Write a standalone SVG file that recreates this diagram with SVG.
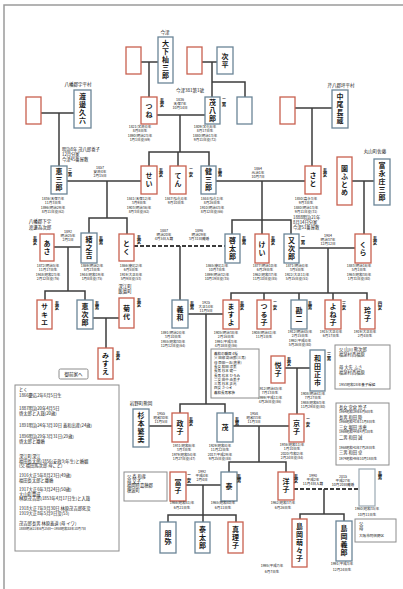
<svg xmlns="http://www.w3.org/2000/svg" width="403" height="589" viewBox="0 0 403 589">
<style>
text{font-family:"Noto Sans CJK JP","Noto Sans",sans-serif;fill:#1a1a1a}
.b{fill:#fff;stroke:#6a8597;stroke-width:1.3}
.r{fill:#fff;stroke:#c8604f;stroke-width:1.3}
.e{fill:#fff;stroke:#9aa8b2;stroke-width:1.2}
.g{fill:#fff;stroke:#8c8c8c;stroke-width:1}
.n{font-size:7px;font-weight:bold;writing-mode:vertical-rl;text-anchor:middle;letter-spacing:1px}
.l{font-size:4.4px;font-weight:bold;writing-mode:vertical-rl;text-anchor:start}
.s{font-size:3.5px;text-anchor:middle}
.m{font-size:3.6px;text-anchor:middle}
.p{font-size:4.5px;text-anchor:middle}
.t{font-size:4.3px}
.c{fill:none;stroke:#3c3c3c;stroke-width:1.5}
.d{fill:none;stroke:#3c3c3c;stroke-width:2;stroke-dasharray:4 2}
</style>
<path d="M4 589V5H403" fill="none" stroke="#9a9a9a" stroke-width="1.5"/>
<g id="connectors">
<path class="c" d="M141 62H158M149 62V97M202 62H217M212 62V97M212 82H245V97M41 113H74M59 113V166M295 108H332M312 108V166M157 115H205M180 115V152M149 166V152H209V166M178 152V166M67 181H141M107 181V218M89 233V218H127V234M216 181H305M262 181V234M232 234V220H291V234M352 181H374M364 181V234M54 247H81M68 247V291M45 300V291H85V300M299 248H355M328 248V293M231 300V293H367V300M264 293V300M299 293V300M333 293V300M93 318H119M106 318V348M180 246V300M188 314H223M206 314V404M180 413V404H225V413M285 368H310M297 368V414M149 426H172M233 426H289M259 426V462M229 472V462H286V472M186 485H221M203 485V522M168 522V515H236V522M324 489V514M300 519V514H344V521"/>
<path class="d" d="M134 246H225M294 489H359"/>
</g>
<g id="labels">
<text class="p" x="165" y="34">今津</text>
<text class="p" x="78" y="86">八幡郡宇平村</text>
<text class="p" x="190" y="92">今津381第1號</text>
<text class="p" x="341" y="87">芹八郡坪平村</text>
<text class="p" x="375" y="153">丸山町佐藤</text>
<text class="p" x="40" y="223">八幡郡下宇</text>
<text class="p" x="40" y="228.5">渡邊為次郎</text>
<text class="p" x="125" y="287.5">深江町</text>
<text class="p" x="125" y="293">飯島町</text>
<text class="p" x="141" y="405">岩野町熊岡</text>
<text class="t" x="62" y="151">明治8年 茂八郎養子</text>
<text class="t" x="62" y="156">12月分家</text>
<text class="t" x="62" y="161">今津45番屋敷</text>
<text class="t" x="293" y="219">1888明治21年</text>
<text class="t" x="293" y="224">8月14日分家</text>
<text class="t" x="293" y="229">今津51番屋敷</text>
</g>
<g id="marriages">
<text class="m" x="180" y="100.5">1836</text><text class="m" x="180" y="104.8">天保7年</text><text class="m" x="180" y="109.1">10月14日</text>
<text class="m" x="100" y="168.5">1857</text><text class="m" x="100" y="172.8">安政4年</text><text class="m" x="100" y="177.1">2月15日</text>
<text class="m" x="258" y="169.5">1864</text><text class="m" x="258" y="173.8">元治1年</text><text class="m" x="258" y="178.1">10月7日</text>
<text class="m" x="68" y="232.5">1892</text><text class="m" x="68" y="236.8">明治25年</text><text class="m" x="68" y="241.1">2月1日</text>
<text class="m" x="164" y="231.5">1887</text><text class="m" x="164" y="235.8">明治20年</text><text class="m" x="164" y="240.1">4月5日入籍</text>
<text class="m" x="199" y="231.5">1896</text><text class="m" x="199" y="235.8">明治29年</text><text class="m" x="199" y="240.1">3月31日離婚</text>
<text class="m" x="328" y="236.5">1904</text><text class="m" x="328" y="240.8">明治37年</text><text class="m" x="328" y="245.1">12月12日</text>
<text class="m" x="206" y="303.5">1925</text><text class="m" x="206" y="307.8">大正14年</text><text class="m" x="206" y="312.1">11月5日</text>
<text class="m" x="161" y="414.5">1955</text><text class="m" x="161" y="418.8">昭和30年</text><text class="m" x="161" y="423.1">11月5日</text>
<text class="m" x="254" y="414.5">1958</text><text class="m" x="254" y="418.8">昭和33年</text><text class="m" x="254" y="423.1">11月3日</text>
<text class="m" x="202" y="472.5">1992</text><text class="m" x="202" y="476.8">平成4年</text><text class="m" x="202" y="481.1">2月4日</text>
<text class="m" x="313" y="476.5">1990</text><text class="m" x="313" y="480.8">平成2年</text><text class="m" x="313" y="485.1">11月4日入籍</text>
<text class="m" x="343" y="477.5">2015</text><text class="m" x="343" y="481.8">平成27年</text><text class="m" x="343" y="486.1">10月20日離婚</text>
</g>
<g id="n-red0"><rect class="r" x="126" y="47" width="15" height="27"/></g>
<g id="n-oshita"><rect class="b" x="158" y="37" width="15" height="46"/><text class="n" x="165.5" y="60">大下杣三郎</text></g>
<g id="n-red1"><rect class="r" x="187" y="47" width="15" height="27"/></g>
<g id="n-jihei"><rect class="b" x="217" y="47" width="16" height="27"/><text class="n" x="225" y="60.5">次平</text></g>
<g id="n-watanabe"><rect class="b" x="74" y="90" width="17" height="38"/><text class="n" x="82.5" y="109">渡邊久六</text></g>
<g id="n-red2"><rect class="r" x="26" y="97" width="15" height="27"/></g>
<g id="n-tsune"><rect class="r" x="141" y="97" width="16" height="27"/><text class="n" x="149" y="110.5">つね</text><text class="l" x="162" y="98">長女</text>
<text class="s" x="140" y="128">1821(文政4)年</text><text class="s" x="140" y="132.3">8月8日生</text><text class="s" x="140" y="136.6">1890(明治23)年</text><text class="s" x="140" y="140.9">1月1日没(69)</text></g>
<g id="n-mohachiro"><rect class="b" x="205" y="97" width="15" height="27"/><text class="n" x="212.5" y="110.5">茂八郎</text><text class="l" x="224" y="98">二男</text>
<text class="s" x="205" y="128">1809(文化6)年</text><text class="s" x="205" y="132.3">8月17日生</text><text class="s" x="205" y="136.6">1880(明治13)年</text><text class="s" x="205" y="140.9">9月11日没(72)</text></g>
<g id="n-blue0"><rect class="b" x="237" y="97" width="15" height="27"/></g>
<g id="n-red3"><rect class="r" x="280" y="97" width="15" height="27"/></g>
<g id="n-nakao"><rect class="b" x="332" y="90" width="16" height="38"/><text class="n" x="340" y="109">中尾長蔵</text></g>
<g id="n-keizaburo"><rect class="b" x="51" y="166" width="16" height="28"/><text class="n" x="59" y="180">恵三郎</text><text class="l" x="70" y="168">三男</text>
<text class="s" x="53" y="200">1836(天保7)年</text><text class="s" x="53" y="204.3">11月3日生</text><text class="s" x="53" y="208.6">1896(明治29)年</text><text class="s" x="53" y="212.9">8月11日没(62)</text></g>
<g id="n-sei"><rect class="r" x="141" y="166" width="16" height="28"/><text class="n" x="149" y="180">せい</text><text class="l" x="161" y="168">長女</text>
<text class="s" x="139" y="200">1841(天保12)年</text><text class="s" x="139" y="204.3">3月9日生</text><text class="s" x="139" y="208.6">1903(明治36)年</text><text class="s" x="139" y="212.9">8月3日没(62)</text></g>
<g id="n-ten"><rect class="r" x="170" y="166" width="16" height="28"/><text class="n" x="178" y="180">てん</text><text class="l" x="191" y="168">二女</text>
<text class="s" x="176" y="200">1847(弘化4)年</text><text class="s" x="176" y="204.3">9月10日生</text></g>
<g id="n-kenzaburo"><rect class="b" x="201" y="166" width="15" height="28"/><text class="n" x="208.5" y="180">健三郎</text><text class="l" x="220" y="168">長男</text>
<text class="s" x="212" y="200">1844(弘化1)年</text><text class="s" x="212" y="204.3">8月26日生</text><text class="s" x="212" y="208.6">1910(明治43)年</text><text class="s" x="212" y="212.9">8月12日没(66)</text></g>
<g id="n-sato"><rect class="r" x="305" y="166" width="16" height="28"/><text class="n" x="313" y="180">さと</text><text class="l" x="325" y="168">長女</text>
<text class="s" x="306" y="200">1850(嘉永3)年</text><text class="s" x="306" y="204.3">9月3日生</text><text class="s" x="306" y="208.6">1880(明治13)年</text><text class="s" x="306" y="212.9">9月11日没(31)</text></g>
<g id="n-sonofutome"><rect class="r" x="337" y="157" width="15" height="48"/><text class="n" x="344.5" y="181">園ふとめ</text></g>
<g id="n-tominaga"><rect class="b" x="374" y="159" width="16" height="46"/><text class="n" x="382" y="182">富永庄三郎</text></g>
<g id="n-asa"><rect class="r" x="40" y="234" width="14" height="27"/><text class="n" x="47" y="247.5">あさ</text><text class="l" x="35" y="236">長女</text>
<text class="s" x="48" y="267">1872(明治5)年</text><text class="s" x="48" y="271.3">11月17日生</text><text class="s" x="48" y="275.6">1948(昭和23)年</text><text class="s" x="48" y="279.9">2月12日没(76)</text></g>
<g id="n-onokichi"><rect class="b" x="81" y="233" width="16" height="30"/><text class="n" x="89" y="248">緒之吉</text><text class="l" x="101" y="236">長男</text>
<text class="s" x="92" y="267">1869(明治2)年</text><text class="s" x="92" y="271.3">8月23日生</text><text class="s" x="92" y="275.6">1944(昭和19)年</text><text class="s" x="92" y="279.9">1月8日没(75)</text></g>
<g id="n-toku"><rect class="r" x="119" y="234" width="15" height="27"/><text class="n" x="126.5" y="247.5">とく</text><text class="l" x="139" y="235">長女</text>
<text class="s" x="131" y="267">1866(慶応2)年</text><text class="s" x="131" y="271.3">6月5日生</text><text class="s" x="131" y="275.6">1919(大正8)年</text><text class="s" x="131" y="279.9">5月9日没(53)</text></g>
<g id="n-keitaro"><rect class="b" x="225" y="234" width="15" height="29"/><text class="n" x="232.5" y="248.5">啓太郎</text><text class="l" x="244" y="236">長男</text>
<text class="s" x="217" y="267">1865(慶応1)年</text><text class="s" x="217" y="271.3">10月7日生</text><text class="s" x="217" y="275.6">1899(明治32)年</text><text class="s" x="217" y="279.9">10月19日没(35)</text></g>
<g id="n-kei"><rect class="r" x="255" y="234" width="14" height="29"/><text class="n" x="262" y="248.5">けい</text><text class="l" x="273" y="236">長女</text>
<text class="s" x="265" y="267">1877(明治10)年</text><text class="s" x="265" y="271.3">6月29日生</text><text class="s" x="265" y="275.6">1962(昭和37)年</text><text class="s" x="265" y="279.9">11月10日没(85)</text></g>
<g id="n-matajiro"><rect class="b" x="284" y="234" width="15" height="29"/><text class="n" x="291.5" y="248.5">又次郎</text><text class="l" x="303" y="236">二男</text>
<text class="s" x="297" y="267">1871(明治4)年</text><text class="s" x="297" y="271.3">3月5日生</text><text class="s" x="297" y="275.6">1922(大正11)年</text><text class="s" x="297" y="279.9">5月15日没(51)</text></g>
<g id="n-kura"><rect class="r" x="355" y="234" width="16" height="29"/><text class="n" x="363" y="248.5">くら</text><text class="l" x="375" y="236">長女</text>
<text class="s" x="359" y="267">1883(明治16)年</text><text class="s" x="359" y="271.3">5月1日生</text><text class="s" x="359" y="275.6">1963(昭和38)年</text><text class="s" x="359" y="279.9">1月31日没(80)</text></g>
<g id="n-sakie"><rect class="r" x="37" y="300" width="15" height="29"/><text class="n" x="44.5" y="314.5">サキエ</text><text class="l" x="57" y="301">長女</text></g>
<g id="n-keijiro"><rect class="b" x="77" y="300" width="16" height="29"/><text class="n" x="85" y="314.5">恵次郎</text><text class="l" x="97" y="301">長男</text></g>
<g id="n-kikuyo"><rect class="r" x="119" y="298" width="15" height="30"/><text class="n" x="126.5" y="313">菊代</text><text class="l" x="139" y="298">長女</text></g>
<g id="n-misue"><rect class="r" x="98" y="348" width="15" height="31"/><text class="n" x="105.5" y="363.5">みすえ</text><text class="l" x="118" y="351">長女</text></g>
<g id="n-yoshikazu"><rect class="b" x="172" y="300" width="16" height="28"/><text class="n" x="180" y="314">義和</text><text class="l" x="192" y="301">長男</text>
<text class="s" x="173" y="334">1891(明治24)年</text><text class="s" x="173" y="338.3">3月10日生</text><text class="s" x="173" y="342.6">1955(昭和30)年</text><text class="s" x="173" y="346.9">12月12日没(64)</text></g>
<g id="n-masuyo"><rect class="r" x="223" y="300" width="16" height="29"/><text class="n" x="231" y="314.5">ますよ</text><text class="l" x="242" y="301">長女</text>
<text class="s" x="226" y="334">1905(明治38)年</text><text class="s" x="226" y="338.3">2月16日生</text><text class="s" x="226" y="342.6">1991(平成3)年</text><text class="s" x="226" y="346.9">4月18日没(86)</text></g>
<g id="n-tsuruko"><rect class="r" x="257" y="300" width="14" height="29"/><text class="n" x="264" y="314.5">つる子</text><text class="l" x="275" y="301">二女</text>
<text class="s" x="264" y="334">1908(明治41)年</text><text class="s" x="264" y="338.3">11月1日生</text></g>
<g id="n-kanji"><rect class="b" x="291" y="300" width="16" height="29"/><text class="n" x="299" y="314.5">勘二</text><text class="l" x="310" y="301">長男</text>
<text class="s" x="300" y="333">1912(明治45)年</text><text class="s" x="300" y="337.3">2月15日生</text><text class="s" x="300" y="341.6">1992(平成4)年</text><text class="s" x="300" y="345.9">5月26日没(80)</text></g>
<g id="n-yoneko"><rect class="r" x="325" y="300" width="16" height="29"/><text class="n" x="333" y="314.5">よね子</text><text class="l" x="344" y="301">三女</text>
<text class="s" x="331" y="333">1915(大正4)年</text><text class="s" x="331" y="337.3">6月17日生</text></g>
<g id="n-reiko"><rect class="r" x="360" y="300" width="15" height="29"/><text class="n" x="367.5" y="314.5">玲子</text><text class="l" x="380" y="301">四女</text>
<text class="s" x="365" y="333">1919(大正8)年</text><text class="s" x="365" y="337.3">2月4日生</text></g>
<g id="n-etsuko"><rect class="r" x="271" y="356" width="14" height="27"/><text class="n" x="278" y="369.5">悦子</text><text class="l" x="289" y="357">長女</text>
<text class="s" x="270" y="390">1912(明治45)年</text><text class="s" x="270" y="394.3">7月13日生</text><text class="s" x="270" y="398.6">1999(平成11)年</text><text class="s" x="270" y="402.9">4月26日没(86)</text></g>
<g id="n-wada"><rect class="b" x="310" y="350" width="15" height="41"/><text class="n" x="317.5" y="370.5">和田正市</text><text class="l" x="329" y="352">三男</text>
<text class="s" x="313" y="395">1908(明治41)年</text><text class="s" x="313" y="399.3">7月27日生</text><text class="s" x="313" y="403.6">1988(昭和63)年</text><text class="s" x="313" y="407.9">11月29日没(80)</text></g>
<g id="n-sugimoto"><rect class="b" x="133" y="409" width="16" height="38"/><text class="n" x="141" y="428">杉本繁美</text></g>
<g id="n-masako"><rect class="r" x="172" y="413" width="16" height="29"/><text class="n" x="180" y="427.5">政子</text><text class="l" x="191" y="417">長女</text>
<text class="s" x="184" y="447">1931(昭和6)年</text><text class="s" x="184" y="451.3">3月3日生</text><text class="s" x="184" y="455.6">1979(昭和54)年</text><text class="s" x="184" y="459.9">1月27日没(47)</text></g>
<g id="n-shigeru"><rect class="b" x="217" y="413" width="16" height="29"/><text class="n" x="225" y="427.5">茂</text><text class="l" x="237" y="417">長男</text>
<text class="s" x="220" y="447">1929(昭和4)年</text><text class="s" x="220" y="451.3">11月22日生</text><text class="s" x="220" y="455.6">2017(平成29)年</text><text class="s" x="220" y="459.9">9月25日没(88)</text></g>
<g id="n-kyoko"><rect class="r" x="289" y="414" width="15" height="28"/><text class="n" x="296.5" y="428">京子</text><text class="l" x="308" y="418">二女</text>
<text class="s" x="292" y="446">1936(昭和11)年</text><text class="s" x="292" y="450.3">1月10日生</text><text class="s" x="292" y="454.6">2020(令和2)年</text><text class="s" x="292" y="458.9">2月24日没(84)</text></g>
<g id="n-tomiko"><rect class="r" x="170" y="472" width="16" height="29"/><text class="n" x="178" y="486.5">冨子</text><text class="l" x="189" y="474">二女</text>
<text class="s" x="182" y="504">1966(昭和41)年</text><text class="s" x="182" y="509">6月21日生</text></g>
<g id="n-yasushi"><rect class="b" x="221" y="472" width="16" height="29"/><text class="n" x="229" y="486.5">泰</text><text class="l" x="239" y="474">長男</text>
<text class="s" x="223" y="504">1965(昭和40)年</text><text class="s" x="223" y="509">6月11日生</text></g>
<g id="n-yoko"><rect class="r" x="278" y="472" width="16" height="28"/><text class="n" x="286" y="486">洋子</text><text class="l" x="296" y="474">長女</text>
<text class="s" x="283" y="504">1962(昭和37)年</text><text class="s" x="283" y="509">6月26日生</text></g>
<g id="n-husband"><rect class="e" x="359" y="469" width="16" height="37"/><text class="l" x="380" y="471">長男</text>
<text class="s" x="367" y="510">1960(昭和35)年</text><text class="s" x="367" y="515.5">10月11日生</text></g>
<g id="n-tomoya"><rect class="b" x="160" y="522" width="16" height="31"/><text class="n" x="168" y="537.5">朋弥</text></g>
<g id="n-yasutaro"><rect class="b" x="195" y="522" width="15" height="31"/><text class="n" x="202.5" y="537.5">泰太郎</text></g>
<g id="n-mariko"><rect class="r" x="228" y="522" width="15" height="31"/><text class="n" x="235.5" y="537.5">真理子</text></g>
<g id="n-momoko"><rect class="r" x="292" y="519" width="15" height="48"/><text class="n" x="299.5" y="543">島岡萌々子</text>
<text class="s" x="272" y="567">1995(平成7)年</text><text class="s" x="272" y="572.5">6月7日生</text></g>
<g id="n-yoshiro"><rect class="b" x="336" y="521" width="16" height="40"/><text class="n" x="344" y="541">島岡義郎</text>
<text class="s" x="342" y="565">1991(平成3)年</text><text class="s" x="342" y="570.5">12月24日生</text></g>
<g id="notes">
<rect class="g" x="59" y="369" width="29" height="10" rx="1.5"/><text class="p" x="73.5" y="375.8">御前家へ</text>
<rect class="g" x="15" y="385" width="104" height="166"/>
<text class="t" x="19" y="391">とく</text>
<text class="t" x="19" y="397">1866慶応2年6月5日生</text>
<text class="t" x="19" y="410">1887明治20年4月5日</text>
<text class="t" x="19" y="414.5">啓太郎と入籍(20歳)</text>
<text class="t" x="19" y="427">1891明治24年3月10日 義和出産(24歳)</text>
<text class="t" x="19" y="438">1896明治29年3月31日(29歳)</text>
<text class="t" x="19" y="442.5">啓太郎と離婚</text>
<text class="t" x="19" y="458">深江町深江</text>
<text class="t" x="19" y="462.5">福田長太郎(1856(安政3)年生)と婚姻</text>
<text class="t" x="19" y="467">(父 福田馬次郎 母こと)</text>
<text class="t" x="19" y="477">1916大正5年8月23日(49歳)</text>
<text class="t" x="19" y="481.5">福田長太郎と離婚</text>
<text class="t" x="19" y="491">1917大正6年3月24日(50歳)</text>
<text class="t" x="19" y="495.5">大山町豊成</text>
<text class="t" x="19" y="500">林原茂吉郎(1853年4月17日生)と入籍</text>
<text class="t" x="19" y="510">1918大正7年9月30日 林原茂吉郎死没</text>
<text class="t" x="19" y="514.5">1919大正8年5月9日没(53)</text>
<text class="t" x="19" y="525">茂吉郎長男 林原義道 (母 イワ)</text>
<text x="19" y="529.5" style="font-size:3.2px">1888明治21年6月25日〜1958昭和33年10月7日</text>
<rect class="g" x="124" y="472" width="43" height="29"/>
<text class="t" x="127" y="478">父 森 和彦</text>
<text class="t" x="127" y="482.5">母 文子</text>
<text class="t" x="127" y="487">福岡県嘉穂郡</text>
<text class="t" x="127" y="491.5">穂波町</text>
<rect class="g" x="211" y="349" width="48" height="49"/>
<text class="s" x="214" y="355" style="text-anchor:start">義和の職歴 4種</text>
<text class="s" x="214" y="359.3" style="text-anchor:start">父 田部 勘治郎(三男)</text>
<text class="s" x="214" y="363.6" style="text-anchor:start">母 臣田一五(農業)</text>
<text class="s" x="214" y="367.9" style="text-anchor:start">長女 和田 淳美</text>
<text class="s" x="214" y="372.2" style="text-anchor:start">長男 杉本 健一</text>
<text class="s" x="214" y="376.5" style="text-anchor:start">長男 松本 ひろみ</text>
<text class="s" x="214" y="380.8" style="text-anchor:start">二女 田中 由美子</text>
<text class="s" x="214" y="385.1" style="text-anchor:start">三男 杉本 正光</text>
<text class="s" x="214" y="389.4" style="text-anchor:start">四女 さつき</text>
<text class="s" x="214" y="393.7" style="text-anchor:start">義和長男家族</text>
<rect class="g" x="335" y="345" width="55" height="44"/>
<text class="t" x="339" y="350.5">父 山川 熊次郎</text>
<text class="t" x="339" y="355.5">福泉村西福原</text>
<text class="t" x="339" y="368.5">母 大先 ふさ</text>
<text class="t" x="339" y="373.5">福泉村西福原</text>
<text x="339" y="386" style="font-size:3.5px">1953昭和28年養子縁組</text>
<rect class="g" x="336" y="403" width="53" height="62"/>
<text class="t" x="339" y="408.5">長女 宮倉 玲子</text>
<text x="339" y="412.7" style="font-size:3.3px">1964昭和39年6月6日生</text>
<text class="t" x="339" y="418.5">長男 和田 陸</text>
<text x="339" y="422.7" style="font-size:3.3px">1966昭和41年11月8日生</text>
<text class="t" x="339" y="428.5">三女 堀田 渉恵</text>
<text x="339" y="432.7" style="font-size:3.3px">1969昭和44年4月1日生</text>
<text class="t" x="339" y="439">二男 和田 誠</text>
<text x="339" y="449" style="font-size:3.3px">1968昭和43年7月28日生</text>
<text class="t" x="339" y="453.5">三男 和田 卓</text>
<text x="339" y="460" style="font-size:3.3px">1974昭和49年10月18日生</text>
<rect class="g" x="355" y="519" width="41" height="23"/>
<text class="t" x="359" y="525">父</text>
<text class="t" x="359" y="530">母</text>
<text x="359" y="536.5" style="font-size:3.6px">大阪市阿倍野区</text>
</g>
</svg>
